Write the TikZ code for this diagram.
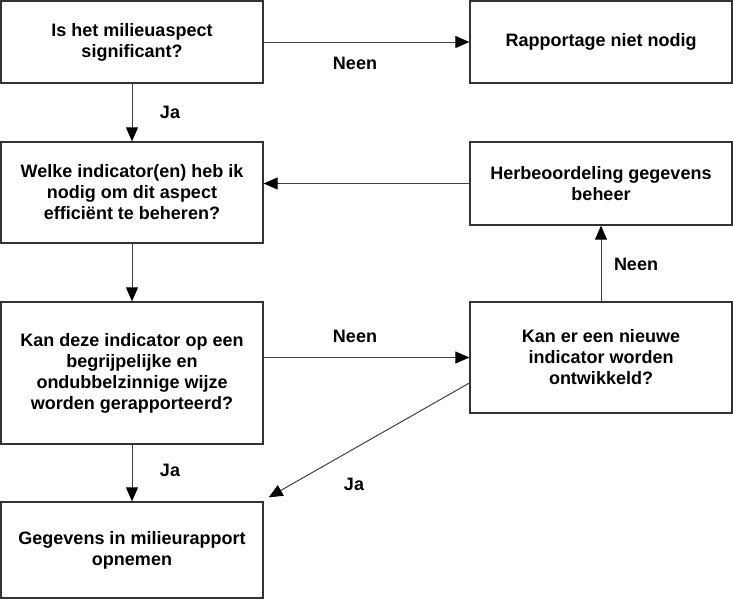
\documentclass[tikz,border=0pt]{standalone}
\usepackage{fontspec}
\setmainfont{Liberation Sans}
\usetikzlibrary{arrows.meta,calc}
\begin{document}
\begin{tikzpicture}[x=1pt,y=-1pt,
  box/.style={draw=black!80,line width=1.3pt,minimum width=262pt,align=center,inner sep=0pt,
    font=\fontsize{18pt}{21pt}\selectfont\bfseries},
  conn/.style={draw=black!75,line width=1pt,-{Triangle[length=14pt,width=12pt,color=black]}},
  lbl/.style={font=\fontsize{18pt}{21pt}\selectfont\bfseries}]
\useasboundingbox (0,0) rectangle (733,600);
\node[box,minimum height=82pt] (A) at (132,42) {Is het milieuaspect\\significant?};
\node[box,minimum height=82pt] (B) at (601,42) {Rapportage niet nodig};
\node[box,minimum height=101pt] (C) at (132,192.5) {Welke indicator(en) heb ik\\nodig om dit aspect\\efficiënt te beheren?};
\node[box,minimum height=83pt] (D) at (601,183.5) {Herbeoordeling gegevens\\beheer};
\node[box,minimum height=142pt] (E) at (132,373) {Kan deze indicator op een\\begrijpelijke en\\ondubbelzinnige wijze\\worden gerapporteerd?};
\node[box,minimum height=111pt] (F) at (601,357.5) {Kan er een nieuwe\\indicator worden\\ontwikkeld?};
\node[box,minimum height=96pt] (G) at (132,550) {Gegevens in milieurapport\\opnemen};
\coordinate (fj) at ($(F.west)+(0,25.5)$);
\coordinate (gj) at ($(G.north east)+(5,-4)$);
\draw[conn] (A.east) -- (B.west);
\draw[conn] (A.south) -- (C.north);
\draw[conn] (D.west) -- (C.east |- D.west);
\draw[conn] (C.south) -- (E.north);
\draw[conn] (E.east |- F.west) -- (F.west);
\draw[conn] (F.north) -- (D.south);
\draw[conn] (E.south) -- (G.north);
\draw[conn] (fj) -- (gj);
\node[lbl] (l1) at (355,63) {Neen};
\node[lbl] (l2) at (170,112) {Ja};
\node[lbl] (l3) at (355,336) {Neen};
\node[lbl] (l4) at (636,264) {Neen};
\node[lbl] (l5) at (170,470) {Ja};
\node[lbl] (l6) at (354,484) {Ja};
\end{tikzpicture}
\end{document}
